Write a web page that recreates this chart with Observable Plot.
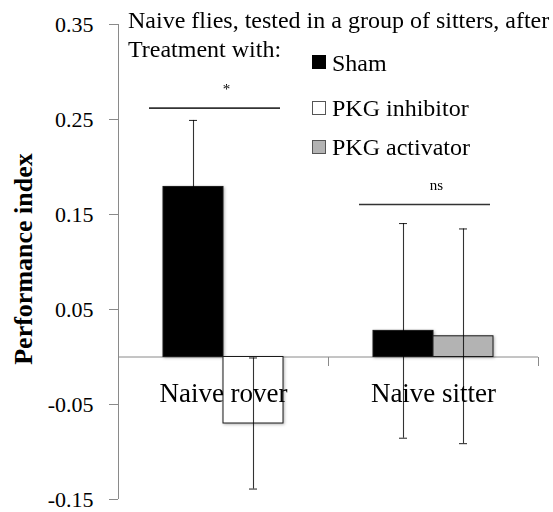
<!DOCTYPE html>
<html><head><meta charset="utf-8">
<script src="https://cdn.jsdelivr.net/npm/d3@7"></script>
<script src="https://cdn.jsdelivr.net/npm/@observablehq/plot@0.6"></script>
<style>
body{margin:0;background:#fff;}
#wrap{position:relative;width:553px;height:512px;font-family:"Liberation Serif","Times New Roman",serif;color:#000;}
#wrap svg{position:absolute;left:0;top:0;}
.t{position:absolute;font-family:"Liberation Serif","Times New Roman",serif;font-size:24px;line-height:24px;white-space:nowrap;}
.sw{position:absolute;width:14px;height:14px;box-sizing:border-box;border:1px solid #555;}
#ylab{position:absolute;font-family:"Liberation Serif","Times New Roman",serif;font-size:26px;line-height:26px;font-weight:bold;white-space:nowrap;transform:translate(-50%,-50%) rotate(-90deg);}
g[aria-label="bar"]{filter:drop-shadow(1.5px 1.5px 1.5px rgba(0,0,0,0.3));}
</style></head><body><div id="wrap"></div>
<script>
// ---- data ----
const groups = ["Naive rover", "Naive sitter"];
const treatments = ["Sham", "PKG inhibitor", "PKG activator"];
const fills = ["#000000", "#ffffff", "#b3b3b3"];
const barGroup = ["Naive rover", "Naive rover", "Naive sitter", "Naive sitter"];
const barTreatment = ["Sham", "PKG inhibitor", "Sham", "PKG activator"];
const barValue = [0.179, -0.070, 0.0275, 0.0218];
const barError = [0.070, 0.069, 0.113, 0.113];
const yDomain = [-0.15, 0.35];
const yTicks = [-0.15, -0.05, 0.05, 0.15, 0.25, 0.35];
const sigGroup = ["Naive rover", "Naive sitter"];
const sigY = [0.262, 0.1605];
const sigLabel = ["*", "ns"];
const titleLines = ["Naive flies, tested in a group of sitters, after", "Treatment with:"];
const yLabel = "Performance index";

// ---- tables ----
const bars = barGroup.map((g, i) => ({
  group: g,
  treatment: barTreatment[i],
  value: barValue[i],
  error: barError[i],
  slot: barGroup.slice(0, i).filter(v => v === g).length
}));
const sigs = sigGroup.map((g, i) => ({group: g, y: sigY[i], label: sigLabel[i]}));

const axisGray = "#8a8a8a";
const errStyle = {stroke: "#000", strokeOpacity: 0.8, strokeWidth: 1.1};

const chart = Plot.plot({
  width: 553, height: 512,
  marginLeft: 117, marginRight: 15, marginTop: 24, marginBottom: 13,
  style: {fontFamily: '"Liberation Serif","Times New Roman",serif', background: "#fff", color: "#000"},
  fx: {domain: groups, padding: 0, axis: null},
  x: {domain: [0, 1], paddingInner: 0, paddingOuter: 0.74, axis: null},
  y: {domain: yDomain, axis: null},
  color: {domain: treatments, range: fills},
  marks: [
    Plot.axisY({ticks: yTicks, tickFormat: d => d.toFixed(2), tickSize: 9, tickPadding: 16,
      fontSize: 22, stroke: axisGray, fill: "#000", label: null}),
    Plot.ruleY([0], {stroke: axisGray}),
    Plot.barY(bars, {fx: "group", x: "slot", y: "value", fill: "treatment", stroke: "#1a1a1a", strokeWidth: 1}),
    Plot.text(groups, {fx: d => d, y: 0, text: d => d, dy: 36, fontSize: 27, lineAnchor: "middle"}),
    Plot.ruleX(bars, {fx: "group", x: "slot", y1: d => d.value - d.error, y2: d => d.value + d.error, ...errStyle}),
    Plot.tickY(bars, {fx: "group", x: "slot", y: d => d.value + d.error, insetLeft: 26, insetRight: 26, ...errStyle}),
    Plot.tickY(bars, {fx: "group", x: "slot", y: d => d.value - d.error, insetLeft: 26, insetRight: 26, ...errStyle}),
    Plot.ruleY(sigs, {fx: "group", y: "y", x1: 0, x2: 1, insetLeft: -14, insetRight: 3,
      stroke: "#333", strokeWidth: 1.6}),
    Plot.text(sigs, {fx: "group", y: "y", text: "label", dy: -19, dx: 3, fontSize: 15, lineAnchor: "middle"})
  ]
});

// axis line and category boundary ticks, using the plot's own scales
const fxS = chart.scale("fx"), yS = chart.scale("y");
const y0 = yS.apply(0);
const deco = d3.select(chart).append("g").attr("stroke", axisGray).attr("stroke-width", 1);
const xAxisLine = fxS.apply(groups[0]) + 0.5;
deco.append("line").attr("x1", xAxisLine).attr("x2", xAxisLine)
  .attr("y1", yS.apply(yDomain[0])).attr("y2", yS.apply(yDomain[1]));
const edges = [];
groups.forEach(g => { edges.push(fxS.apply(g)); edges.push(fxS.apply(g) + fxS.bandwidth); });
Array.from(new Set(edges.map(e => Math.round(e)))).forEach(e => {
  deco.append("line").attr("x1", e + 0.5).attr("x2", e + 0.5).attr("y1", y0 + 0.5).attr("y2", y0 + 9.5);
});

const wrap = document.getElementById("wrap");
wrap.appendChild(chart);

// title
const tops = [8, 37];
titleLines.forEach((s, i) => {
  const d = document.createElement("div");
  d.className = "t"; d.style.left = "128px"; d.style.top = tops[i] + "px"; d.textContent = s;
  wrap.appendChild(d);
});

// legend
const legTop = [51, 96, 135];
const swTop = [55, 101, 140];
treatments.forEach((t, i) => {
  const sw = document.createElement("div");
  sw.className = "sw"; sw.style.left = "312px"; sw.style.top = swTop[i] + "px";
  sw.style.background = fills[i];
  if (i === 0) sw.style.borderColor = "#000";
  wrap.appendChild(sw);
  const d = document.createElement("div");
  d.className = "t"; d.style.left = "332px"; d.style.top = legTop[i] + "px"; d.textContent = t;
  wrap.appendChild(d);
});

// y label
const yl = document.createElement("div");
yl.id = "ylab"; yl.style.left = "24px"; yl.style.top = "259px"; yl.textContent = yLabel;
wrap.appendChild(yl);
</script>
</body></html>
